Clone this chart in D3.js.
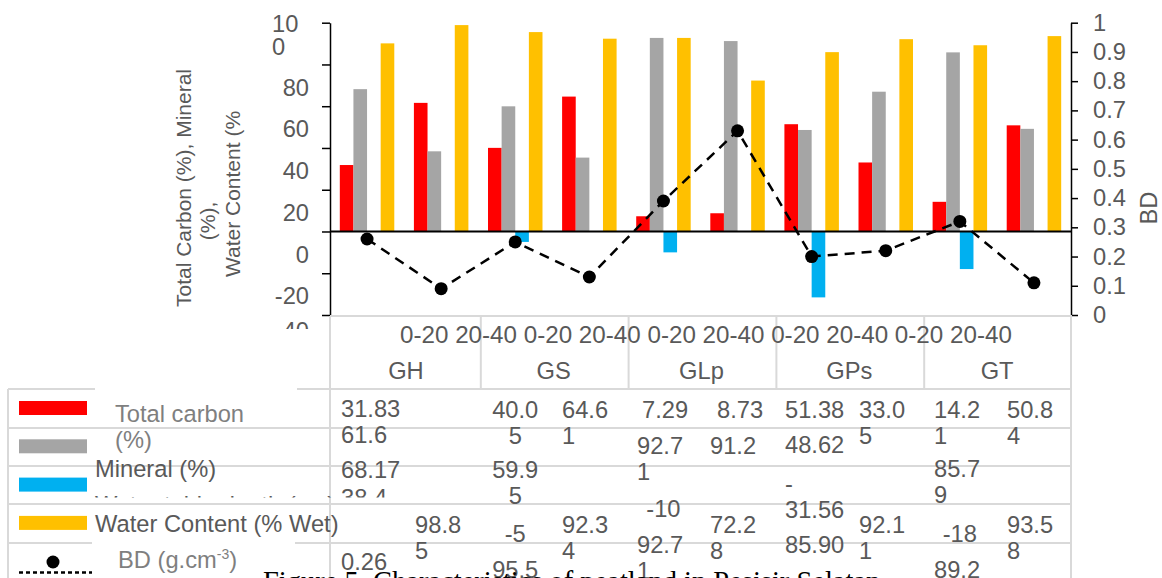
<!DOCTYPE html>
<html>
<head>
<meta charset="utf-8">
<script src="https://cdn.jsdelivr.net/npm/d3@7"></script>
<style>
  body { margin: 0; background: #fff; }
  svg { display: block; }
</style>
</head>
<body>
<svg id="chart" width="1162" height="578"></svg>
<script>
// Peatland sites and sampling depths (cm)
const groups = ["GH", "GS", "GLp", "GPs", "GT"];
const depths = ["0-20", "20-40"];

// Values per site/depth, in order GH 0-20, GH 20-40, GS 0-20, ... GT 20-40
const totalCarbon  = ["31.83", "61.6", "40.05", "64.61", "7.29", "8.73", "51.38", "33.05", "14.21", "50.84"];
const mineral      = ["68.17", "38.4", "59.95", "35.39", "92.71", "91.2", "48.62", "66.95", "85.79", "49.16"];
const waterTable   = [null, null, "-5", null, "-10", null, "-31.56", null, "-18", null];
const waterContent = ["90.1", "98.85", "95.5", "92.34", "92.71", "72.28", "85.90", "92.11", "89.2", "93.58"];
const bulkDensity  = ["0.26", "0.09", "0.25", "0.13", "0.39", "0.63", "0.20", "0.22", "0.32", "0.11"];

// Axis tick values
const leftTicks  = [-40, -20, 0, 20, 40, 60, 80, 100];
const rightTicks = [0, 0.1, 0.2, 0.3, 0.4, 0.5, 0.6, 0.7, 0.8, 0.9, 1];

const FONT = "'Liberation Sans', Arial, sans-serif";
const TXT = "#595959";
const TXT_LIGHT = "#7f7f7f";
const GRID = "#d9d9d9";
const FS = 23.7;

const series = [
  { key: "tc",    values: totalCarbon,  color: "#ff0000" },
  { key: "min",   values: mineral,      color: "#a5a5a5" },
  { key: "wt",    values: waterTable,   color: "#00b0f0" },
  { key: "water", values: waterContent, color: "#ffc000" }
];
const byKey = Object.fromEntries(series.map(s => [s.key, s.values]));
byKey.bd = bulkDensity;

const cats = groups.flatMap(g => depths.map(d => g + " " + d));

const svg = d3.select("#chart");

// Scales
const x = d3.scaleBand().domain(cats).range([330, 1071]);
const xs = d3.scaleBand().domain(series.map(s => s.key)).range([0, x.bandwidth()]).paddingOuter(0.72);
const yL = d3.scaleLinear().domain([-40, 100]).range([315, 22.7]);
const yR = d3.scaleLinear().domain([0, 1]).range([315, 22.7]);
const xg = d3.scaleBand().domain(groups).range([333, 1072]);

// Bars
series.forEach(s => {
  svg.append("g").selectAll("rect")
    .data(s.values.map((v, i) => ({ v, i })).filter(d => d.v !== null))
    .join("rect")
    .attr("x", d => x(cats[d.i]) + xs(s.key))
    .attr("width", xs.bandwidth())
    .attr("y", d => yL(Math.max(0, +d.v)))
    .attr("height", d => Math.abs(yL(+d.v) - yL(0)))
    .attr("fill", s.color);
});

// Zero baseline
svg.append("line")
  .attr("x1", 330).attr("x2", 1071)
  .attr("y1", yL(0)).attr("y2", yL(0))
  .attr("stroke", "#000").attr("stroke-width", 2);

// Left axis
const clip = svg.append("defs");
clip.append("clipPath").attr("id", "leftClip")
  .append("rect").attr("x", -330).attr("y", 0).attr("width", 1162).attr("height", 329);

function wrapLines(s, max) {
  if (s.length <= max) return [s];
  if (s[0] === "-") return ["-", s.slice(1)];
  const out = [];
  for (let i = 0; i < s.length; i += max) out.push(s.slice(i, i + max));
  return out;
}

const gL = svg.append("g")
  .attr("transform", "translate(330,0)")
  .attr("clip-path", "url(#leftClip)")
  .call(d3.axisLeft(yL).tickValues(leftTicks).tickSize(8).tickPadding(13).tickSizeOuter(0)
    .tickFormat(d => d === 100 ? "" : String(d)));
gL.attr("font-family", FONT).attr("font-size", FS);
gL.select(".domain").attr("stroke", "#000").attr("stroke-width", 1.5);
gL.selectAll(".tick line").attr("stroke", "#000").attr("stroke-width", 1.5);
gL.selectAll(".tick text").attr("fill", TXT)
  .attr("transform", d => `translate(0,${d === -40 ? 16 : 23})`);
// the top label wraps onto two lines
const topLabel = gL.append("text").attr("x", -58).attr("fill", TXT).attr("text-anchor", "start");
wrapLines(String(d3.max(leftTicks)), 2).forEach((t, k) => {
  topLabel.append("tspan").attr("x", -58).attr("y", yL(d3.max(leftTicks)) + 9.5 + k * 23).text(t);
});

// Right axis
const gR = svg.append("g")
  .attr("transform", "translate(1071,0)")
  .call(d3.axisRight(yR).tickValues(rightTicks).tickSize(7).tickPadding(15).tickSizeOuter(0)
    .tickFormat(d3.format("")));
gR.attr("font-family", FONT).attr("font-size", FS);
gR.select(".domain").attr("stroke", "#000").attr("stroke-width", 1.5);
gR.selectAll(".tick line").attr("stroke", "#000").attr("stroke-width", 1.5);
gR.selectAll(".tick text").attr("fill", TXT);

// Axis titles
const yTitle = [
  { t: "Total Carbon (%), Mineral", x: 191, y: 188 },
  { t: "(%),", x: 215, y: 221 },
  { t: "Water Content (%", x: 240, y: 194 }
];
yTitle.forEach(l => {
  svg.append("text")
    .attr("transform", `translate(${l.x},${l.y}) rotate(-90)`)
    .attr("text-anchor", "middle")
    .attr("font-family", FONT).attr("font-size", 21).attr("fill", TXT)
    .text(l.t);
});
svg.append("text")
  .attr("transform", "translate(1157,208) rotate(-90)")
  .attr("text-anchor", "middle")
  .attr("font-family", FONT).attr("font-size", FS).attr("fill", TXT)
  .text("BD");

// Bulk density line
const cx = i => x(cats[i]) + x.bandwidth() / 2;
svg.append("path")
  .datum(bulkDensity)
  .attr("d", d3.line().x((d, i) => cx(i)).y(d => yR(+d)))
  .attr("fill", "none").attr("stroke", "#000")
  .attr("stroke-width", 2.5).attr("stroke-dasharray", "10,7");
svg.append("g").selectAll("circle")
  .data(bulkDensity)
  .join("circle")
  .attr("cx", (d, i) => cx(i)).attr("cy", d => yR(+d)).attr("r", 6.5)
  .attr("fill", "#000");

// Data table grid
const grid = svg.append("g").attr("stroke", GRID).attr("stroke-width", 2);
const hl = (x1, x2, y) => grid.append("line").attr("x1", x1).attr("x2", x2).attr("y1", y).attr("y2", y);
const vl = (xv, y1, y2) => grid.append("line").attr("x1", xv).attr("x2", xv).attr("y1", y1).attr("y2", y2);
hl(330, 1072, 316);
vl(330, 316, 578);
vl(1071, 316, 578);
groups.slice(1).forEach(g => vl(xg(g), 316, 389));
hl(8, 95, 389); hl(297, 1072, 389);
[428, 466, 504].forEach(y => hl(8, 1072, y));
hl(8, 92, 543); hl(295, 1072, 543);
vl(8, 389, 578);

// Column headers: depths run as one line, sites centred in their cells
svg.append("text")
  .attr("x", 400).attr("y", 343)
  .attr("font-family", FONT).attr("font-size", 24.2).attr("fill", TXT)
  .text(cats.map(c => c.split(" ")[1]).join(" "));
svg.append("g").selectAll("text")
  .data(groups)
  .join("text")
  .attr("x", g => xg(g) + xg.bandwidth() / 2 - 1).attr("y", 379)
  .attr("text-anchor", "middle")
  .attr("font-family", FONT).attr("font-size", FS).attr("fill", TXT)
  .text(g => g);

// Legend
const legend = svg.append("g");
series.forEach((s, k) => {
  legend.append("rect")
    .attr("x", 19).attr("y", 401 + k * 38.3).attr("width", 68).attr("height", 14)
    .attr("fill", s.color);
});
legend.append("circle").attr("cx", 53).attr("cy", 562).attr("r", 6.5).attr("fill", "#000");
legend.append("line").attr("x1", 19).attr("x2", 92).attr("y1", 572.5).attr("y2", 572.5)
  .attr("stroke", "#000").attr("stroke-width", 2.5).attr("stroke-dasharray", "4,3");

clip.append("clipPath").attr("id", "rowClip")
  .append("rect").attr("x", 0).attr("y", 0).attr("width", 1162).attr("height", 497.5);

const legendText = (t, xv, y, fill) => legend.append("text")
  .attr("x", xv).attr("y", y)
  .attr("font-family", FONT).attr("font-size", FS).attr("fill", fill)
  .text(t);
legendText("Total carbon", 115, 422, TXT_LIGHT);
legendText("(%)", 115, 448, TXT_LIGHT);
legendText("Mineral (%)", 95, 477, TXT);
legendText("Water table depth (cm)", 95, 513, TXT).attr("clip-path", "url(#rowClip)");
legendText("Water Content (% Wet)", 95, 532, TXT);
const bdLabel = legendText("BD (g.cm", 118, 568, TXT_LIGHT);
bdLabel.append("tspan").attr("font-size", 14).attr("dy", -9).text("-3");
bdLabel.append("tspan").attr("dy", 9).text(")");

// Table cell text (wrapped inside narrow cells)
const cellLayout = [
  { s: "tc", i: 0, col: 0, dx: 11, y: 417, max: 5 },
  { s: "tc", i: 1, col: 0, dx: 11, y: 443, max: 5 },
  { s: "tc", i: 2, col: 2, mid: true, y: 418, max: 4 },
  { s: "tc", i: 3, col: 3, dx: 9.7, y: 418, max: 4 },
  { s: "tc", i: 4, col: 4, dx: 15.6, y: 418, max: 4 },
  { s: "tc", i: 5, col: 5, dx: 16.5, y: 418, max: 4 },
  { s: "tc", i: 6, col: 6, dx: 10.4, y: 418, max: 5 },
  { s: "tc", i: 7, col: 7, dx: 10.3, y: 418, max: 4 },
  { s: "tc", i: 8, col: 8, dx: 11.2, y: 418, max: 4 },
  { s: "tc", i: 9, col: 9, dx: 10.1, y: 418, max: 4 },
  { s: "min", i: 0, col: 0, dx: 11, y: 478, max: 5 },
  { s: "min", i: 1, col: 0, dx: 11, y: 506, max: 5, clip: true },
  { s: "min", i: 2, col: 2, mid: true, y: 478, max: 4 },
  { s: "min", i: 4, col: 4, dx: 10.6, y: 454, max: 4 },
  { s: "min", i: 5, col: 5, dx: 9.5, y: 454, max: 4 },
  { s: "min", i: 6, col: 6, dx: 10.4, y: 453, max: 5 },
  { s: "min", i: 8, col: 8, dx: 11.2, y: 477, max: 4 },
  { s: "wt", i: 2, col: 2, mid: true, y: 542, max: 4 },
  { s: "wt", i: 4, col: 4, mid: true, y: 517, max: 4 },
  { s: "wt", i: 6, col: 6, dx: 10.4, y: 492, max: 5 },
  { s: "wt", i: 8, col: 8, mid: true, y: 542, max: 4 },
  { s: "water", i: 1, col: 1, dx: 11, y: 533, max: 4 },
  { s: "water", i: 3, col: 3, dx: 9.7, y: 533, max: 4 },
  { s: "water", i: 5, col: 5, dx: 9.5, y: 533, max: 4 },
  { s: "water", i: 7, col: 7, dx: 10.3, y: 533, max: 4 },
  { s: "water", i: 9, col: 9, dx: 10.1, y: 533, max: 4 },
  { s: "water", i: 2, col: 2, mid: true, y: 578, max: 4 },
  { s: "water", i: 4, col: 4, dx: 10.6, y: 553, max: 4 },
  { s: "water", i: 6, col: 6, dx: 10.4, y: 553, max: 5 },
  { s: "water", i: 8, col: 8, dx: 11.2, y: 578, max: 4 },
  { s: "bd", i: 0, col: 0, dx: 11, y: 570, max: 5 }
];
const cells = svg.append("g").attr("font-family", FONT).attr("font-size", FS).attr("fill", TXT);
cellLayout.forEach(c => {
  const x0 = c.mid ? x(cats[c.col]) + x.bandwidth() / 2 : x(cats[c.col]) + c.dx;
  const t = cells.append("text")
    .attr("text-anchor", c.mid ? "middle" : "start");
  if (c.clip) t.attr("clip-path", "url(#rowClip)");
  wrapLines(byKey[c.s][c.i], c.max).forEach((line, k) => {
    t.append("tspan").attr("x", x0).attr("y", c.y + k * 25.5).text(line);
  });
});

// Figure caption
svg.append("text")
  .attr("x", 263).attr("y", 591)
  .attr("font-family", "'Liberation Serif', 'Times New Roman', serif")
  .attr("font-size", 28.5).attr("fill", "#000")
  .text("Figure 5. Characteristics of peatland in Pesisir Selatan");
</script>
</body>
</html>
